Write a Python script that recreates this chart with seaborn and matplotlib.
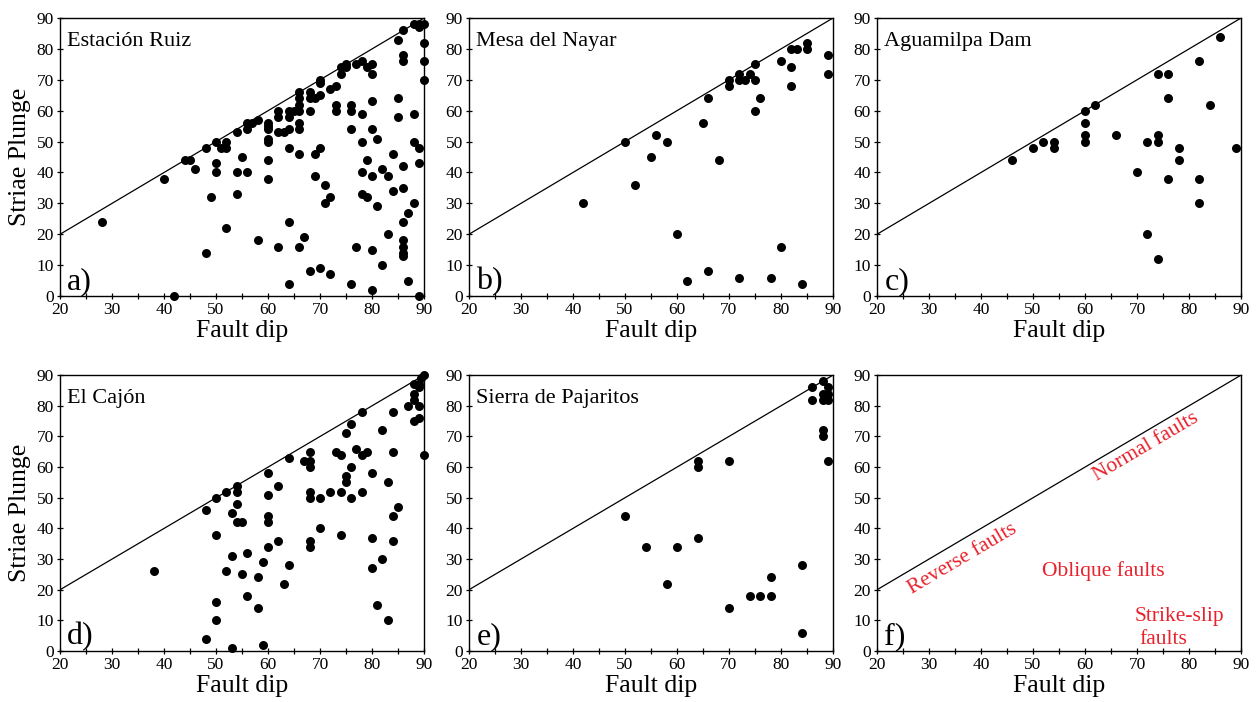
import numpy as np
import pandas as pd
import matplotlib
matplotlib.use("Agg")
import matplotlib.pyplot as plt
import seaborn as sns

# ---- data (fault dip, striae plunge) ----
ruiz_dip = [28, 40, 42, 44, 45, 46, 48, 48, 49, 50, 50, 50, 51, 52, 52, 52, 54, 54, 54, 55,
            56, 56, 56, 57, 58, 58, 60, 60, 60, 60, 60, 60, 60, 62, 62, 62, 62, 63, 64, 64,
            64, 64, 64, 64, 65, 66, 66, 66, 66, 66, 66, 66, 66, 67, 68, 68, 68, 68, 69, 69,
            69, 70, 70, 70, 70, 70, 71, 71, 72, 72, 72, 73, 73, 73, 74, 74, 75, 75, 76, 76,
            76, 76, 77, 77, 78, 78, 78, 78, 78, 79, 79, 79, 80, 80, 80, 80, 80, 80, 80, 81,
            81, 82, 82, 83, 83, 84, 84, 85, 85, 85, 86, 86, 86, 86, 86, 86, 86, 86, 86, 86,
            87, 87, 88, 88, 88, 88, 89, 89, 89, 89, 89, 90, 90, 90, 90]
ruiz_plunge = [24, 38, 0, 44, 44, 41, 48, 14, 32, 50, 43, 40, 48, 48, 50, 22, 53, 40, 33, 45,
               56, 54, 40, 56, 57, 18, 56, 55, 54, 51, 50, 44, 38, 60, 58, 53, 16, 53, 60, 58,
               54, 48, 24, 4, 60, 66, 64, 62, 60, 56, 54, 46, 16, 19, 66, 64, 60, 8, 64, 46,
               39, 70, 69, 65, 48, 9, 36, 30, 67, 32, 7, 68, 62, 60, 72, 74, 74, 75, 62, 60,
               54, 4, 75, 16, 76, 59, 50, 40, 33, 74, 44, 32, 75, 72, 63, 54, 39, 15, 2, 51,
               29, 41, 10, 39, 20, 46, 34, 83, 64, 58, 86, 78, 76, 42, 35, 24, 18, 16, 14, 13,
               27, 5, 88, 59, 50, 30, 88, 87, 48, 43, 0, 88, 82, 76, 70]

nayar_dip = [42, 50, 52, 55, 56, 58, 60, 62, 65, 66, 66, 68, 70, 70, 72, 72, 72, 73, 74, 75,
             75, 75, 76, 78, 80, 80, 82, 82, 82, 83, 84, 85, 85, 89, 89]
nayar_plunge = [30, 50, 36, 45, 52, 50, 20, 5, 56, 64, 8, 44, 70, 68, 72, 70, 6, 70, 72, 75,
                70, 60, 64, 6, 76, 16, 80, 74, 68, 80, 4, 82, 80, 78, 72]

aguamilpa_dip = [46, 50, 52, 54, 54, 60, 60, 60, 60, 62, 66, 70, 72, 72, 74, 74, 74, 74, 76, 76,
                 76, 78, 78, 82, 82, 82, 84, 86, 89]
aguamilpa_plunge = [44, 48, 50, 50, 48, 60, 56, 52, 50, 62, 52, 40, 50, 20, 72, 52, 50, 12, 72, 64,
                    38, 48, 44, 76, 38, 30, 62, 84, 48]

cajon_dip = [38, 48, 48, 50, 50, 50, 50, 52, 52, 53, 53, 53, 54, 54, 54, 54, 55, 55, 56, 56,
             58, 58, 59, 59, 60, 60, 60, 60, 60, 62, 62, 63, 64, 64, 67, 68, 68, 68, 68, 68,
             68, 68, 70, 70, 72, 73, 74, 74, 74, 75, 75, 75, 76, 76, 76, 77, 78, 78, 78, 79,
             80, 80, 80, 81, 82, 82, 83, 83, 84, 84, 84, 84, 85, 87, 88, 88, 88, 88, 89, 89,
             89, 89, 89.5, 90, 90]
cajon_plunge = [26, 46, 4, 50, 38, 16, 10, 52, 26, 45, 31, 1, 54, 52, 48, 42, 42, 25, 32, 18,
                24, 14, 29, 2, 58, 51, 44, 42, 34, 54, 36, 22, 63, 28, 62, 65, 62, 60, 52, 50,
                36, 34, 50, 40, 52, 65, 64, 52, 38, 71, 57, 55, 74, 60, 50, 66, 78, 64, 52, 65,
                58, 37, 27, 15, 72, 30, 55, 10, 78, 65, 44, 36, 47, 80, 87, 84, 82, 75, 87, 86,
                80, 76, 89, 90, 64]

pajaritos_dip = [50, 54, 58, 60, 64, 64, 64, 70, 70, 74, 76, 78, 78, 84, 84, 86, 86, 88, 88, 88,
                 88, 88, 89, 89, 89, 89]
pajaritos_plunge = [44, 34, 22, 34, 62, 60, 37, 62, 14, 18, 18, 24, 18, 28, 6, 86, 82, 88, 84, 82,
                    72, 70, 86, 84, 82, 62]

panel_names = ["Estación Ruiz", "Mesa del Nayar", "Aguamilpa Dam", "El Cajón", "Sierra de Pajaritos", ""]
panel_letters = ["a)", "b)", "c)", "d)", "e)", "f)"]
x_ticks = [20, 30, 40, 50, 60, 70, 80, 90]
y_ticks = [0, 10, 20, 30, 40, 50, 60, 70, 80, 90]

datasets = [
    (ruiz_dip, ruiz_plunge),
    (nayar_dip, nayar_plunge),
    (aguamilpa_dip, aguamilpa_plunge),
    (cajon_dip, cajon_plunge),
    (pajaritos_dip, pajaritos_plunge),
    None,
]

sns.set_theme(style="ticks")
plt.rcParams["font.family"] = ["Liberation Serif", "DejaVu Serif"]
plt.rcParams["axes.edgecolor"] = "black"
plt.rcParams["axes.linewidth"] = 1.0
plt.rcParams["text.color"] = "black"
plt.rcParams["axes.labelcolor"] = "black"
plt.rcParams["xtick.color"] = "black"
plt.rcParams["ytick.color"] = "black"
plt.rcParams["xtick.labelcolor"] = "black"
plt.rcParams["ytick.labelcolor"] = "black"

fig = plt.figure(figsize=(12.59, 7.02), dpi=100)

lefts = [0.0477, 0.3725, 0.6966]
width = 0.2891
bottoms = [0.5783, 0.0726]
heights = [0.396, 0.393]

for i in range(6):
    row, col = divmod(i, 3)
    ax = fig.add_axes([lefts[col], bottoms[row], width, heights[row]])

    # 1:1 reference line
    ax.plot([20, 90], [20, 90], color="black", lw=0.9, zorder=1)

    if datasets[i] is not None:
        df = pd.DataFrame({"dip": datasets[i][0], "plunge": datasets[i][1]})
        sns.scatterplot(data=df, x="dip", y="plunge", ax=ax, color="black",
                        s=42, edgecolor="black", linewidth=0, zorder=3, clip_on=False)

    ax.set_xlim(20, 90)
    ax.set_ylim(0, 90)
    ax.set_xticks(x_ticks)
    ax.set_xticks(np.arange(25, 90, 10), minor=True)
    ax.set_yticks(y_ticks)
    ax.tick_params(axis="both", which="both", direction="inout", length=5, width=0.9,
                   labelsize=12.5, pad=2, colors="black")
    ax.tick_params(axis="both", which="minor", length=5)
    for sp in ax.spines.values():
        sp.set_visible(True)
        sp.set_color("black")

    ax.set_xlabel("Fault dip", fontsize=18.5, labelpad=1, color="black")
    if col == 0:
        ax.set_ylabel("Striae Plunge", fontsize=18.5, labelpad=4, color="black")
    else:
        ax.set_ylabel("")

    if panel_names[i]:
        ax.text(0.019, 0.90, panel_names[i], transform=ax.transAxes, fontsize=16,
                ha="left", va="baseline", color="black")
    ax.text(0.02, 0.025, panel_letters[i], transform=ax.transAxes, fontsize=23,
            ha="left", va="baseline", color="black")

    if i == 5:
        red = "#e8222c"
        ax.text(36.4, 30, "Reverse faults", color=red, fontsize=15.5, rotation=30.5,
                ha="center", va="center", rotation_mode="anchor")
        ax.text(71.8, 66.5, "Normal faults", color=red, fontsize=15.5, rotation=30.5,
                ha="center", va="center", rotation_mode="anchor")
        ax.text(63.6, 26, "Oblique faults", color=red, fontsize=15.5, ha="center", va="center")
        ax.text(69.5, 11.3, "Strike-slip", color=red, fontsize=15.5, ha="left", va="center")
        ax.text(70.5, 3.7, "faults", color=red, fontsize=15.5, ha="left", va="center")

fig.savefig("out.png", dpi=100)
